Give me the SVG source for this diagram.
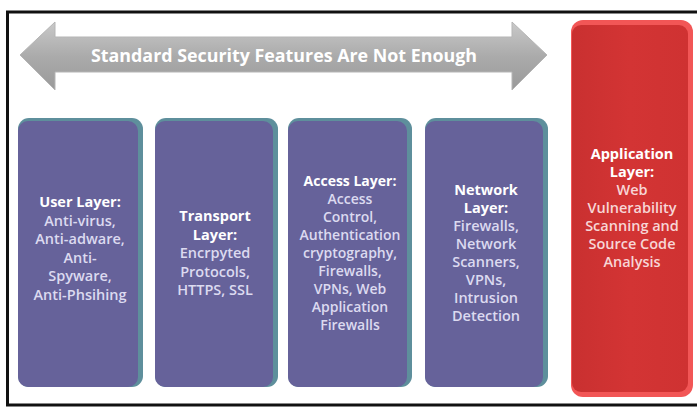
<svg xmlns="http://www.w3.org/2000/svg" width="697" height="408" viewBox="0 0 697 408">
<defs>
<linearGradient id="arrowGrad" x1="0" y1="0" x2="0" y2="1">
<stop offset="0" stop-color="#C9C9C9"/>
<stop offset="0.5" stop-color="#ABABAB"/>
<stop offset="1" stop-color="#9A9A9A"/>
</linearGradient>
<linearGradient id="redGrad" x1="0" y1="0" x2="1" y2="0">
<stop offset="0" stop-color="#C93030"/>
<stop offset="0.5" stop-color="#D33434"/>
<stop offset="1" stop-color="#CF3232"/>
</linearGradient>
</defs>
<style>
.frame{fill:none;stroke:#111;stroke-width:3}
.edge{fill:#5E8F9C}
.face{fill:#66629A}
.t{font-family:"Open Sans","Liberation Sans",Arial,sans-serif;font-size:14.5px;text-anchor:middle}
.h{font-weight:700;fill:#FFFFFF}
.b{font-weight:600;fill:#DCDAF0}
.rb{font-weight:600;fill:#F7D6D6}
</style>
<rect width="697" height="408" fill="#FFFFFF"/>
<path class="frame" d="M700,12 H7.5 V405 H700"/>
<g id="arrow">
<polygon points="20,55 55,22 55,37 512,37 512,22 547,55 512,90 512,72 55,72 55,90" fill="url(#arrowGrad)" stroke="#B5B5B5" stroke-width="1"/>
<text x="284" y="62" font-family="'Open Sans','Liberation Sans',Arial,sans-serif" font-size="17" font-weight="bold" fill="#FFFFFF" text-anchor="middle" textLength="386" lengthAdjust="spacingAndGlyphs">Standard Security Features Are Not Enough</text>
</g>
<g id="user-layer">
<rect class="edge" x="18" y="118" width="125" height="269" rx="11"/>
<rect class="face" x="18" y="121" width="120" height="266" rx="10"/>
<text class="t"><tspan class="h" x="80" y="207">User Layer:</tspan><tspan class="b" x="80" y="225.5">Anti-virus,</tspan><tspan class="b" x="80" y="244">Anti-adware,</tspan><tspan class="b" x="80" y="262.5">Anti-</tspan><tspan class="b" x="80" y="281">Spyware,</tspan><tspan class="b" x="80" y="299.5">Anti-Phsihing</tspan></text>
</g>
<g id="transport-layer">
<rect class="edge" x="155" y="118" width="123" height="269" rx="11"/>
<rect class="face" x="155" y="121" width="118" height="266" rx="10"/>
<text class="t"><tspan class="h" x="215" y="221">Transport</tspan><tspan class="h" x="215" y="240">Layer:</tspan><tspan class="b" x="215" y="258">Encrpyted</tspan><tspan class="b" x="215" y="277">Protocols,</tspan><tspan class="b" x="215" y="295">HTTPS, SSL</tspan></text>
</g>
<g id="access-layer">
<rect class="edge" x="288" y="118" width="124" height="269" rx="11"/>
<rect class="face" x="288" y="121" width="119" height="266" rx="10"/>
<text class="t" style="font-size:14px"><tspan class="h" x="350" y="186">Access Layer:</tspan><tspan class="b" x="350" y="204">Access</tspan><tspan class="b" x="350" y="222">Control,</tspan><tspan class="b" x="350" y="240">Authentication</tspan><tspan class="b" x="350" y="258">cryptography,</tspan><tspan class="b" x="350" y="276">Firewalls,</tspan><tspan class="b" x="350" y="294">VPNs, Web</tspan><tspan class="b" x="350" y="312">Application</tspan><tspan class="b" x="350" y="330">Firewalls</tspan></text>
</g>
<g id="network-layer">
<rect class="edge" x="425" y="118" width="123" height="269" rx="11"/>
<rect class="face" x="425" y="121" width="118" height="266" rx="10"/>
<text class="t" style="font-size:14.5px"><tspan class="h" x="486" y="195">Network</tspan><tspan class="h" x="486" y="213">Layer:</tspan><tspan class="b" x="486" y="231">Firewalls,</tspan><tspan class="b" x="486" y="249">Network</tspan><tspan class="b" x="486" y="267">Scanners,</tspan><tspan class="b" x="486" y="285">VPNs,</tspan><tspan class="b" x="486" y="303">Intrusion</tspan><tspan class="b" x="486" y="321">Detection</tspan></text>
</g>
<g id="application-layer">
<rect x="571" y="20" width="122" height="377" rx="12" fill="#F25656"/>
<rect x="572" y="25" width="116" height="367" rx="9" fill="url(#redGrad)"/>
<text class="t"><tspan class="h" x="632" y="158.5">Application</tspan><tspan class="h" x="632" y="177">Layer:</tspan><tspan class="rb" x="632" y="195">Web</tspan><tspan class="rb" x="632" y="213">Vulnerability</tspan><tspan class="rb" x="632" y="231">Scanning and</tspan><tspan class="rb" x="632" y="249">Source Code</tspan><tspan class="rb" x="632" y="267">Analysis</tspan></text>
</g>
<g id="connectors"/>
</svg>
